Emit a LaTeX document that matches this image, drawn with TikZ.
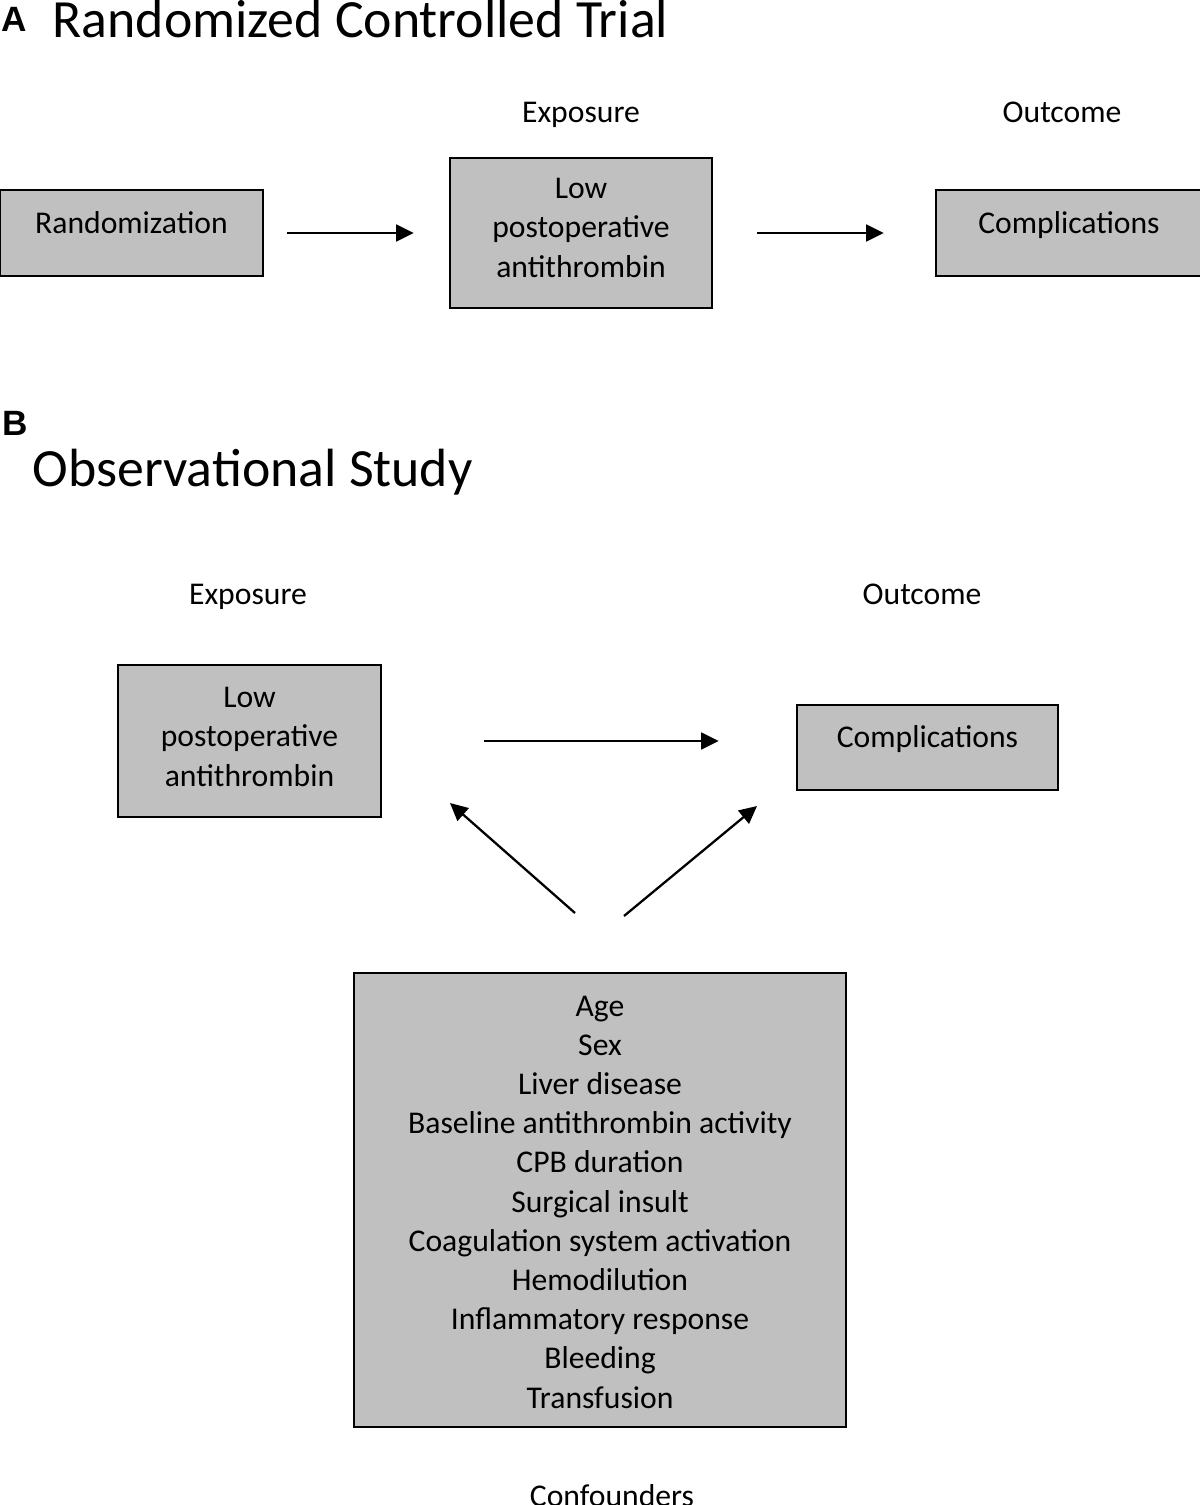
\documentclass[tikz,border=0pt]{standalone}
\usepackage{fontspec}
\setmainfont{Carlito}
\newfontfamily\panelfont{Liberation Sans}
\usetikzlibrary{arrows.meta,positioning}
\definecolor{boxgray}{RGB}{192,192,192}

\begin{document}
\begin{tikzpicture}[x=0.01cm,y=-0.01cm,
  box/.style={draw=black,line width=0.7pt,fill=boxgray,inner sep=0pt,align=center,font=\fontsize{9}{11.2}\selectfont},
  onebox/.style={box,text height=0.15cm,text depth=0.15cm},
  tag/.style={anchor=base,font=\fontsize{9}{11.2}\selectfont},
  title/.style={anchor=base west,inner sep=0pt,font=\fontsize{15.3}{18}\selectfont},
  panel/.style={anchor=base west,inner sep=0pt,font=\panelfont\bfseries\fontsize{10}{12}\selectfont},
  arr/.style={line width=0.65pt,->,>={Triangle[length=5pt,width=4.8pt]}}]
\useasboundingbox (0,0) rectangle (1200,1505);

%% A: randomized trial
\node[panel] (panA) at (1,31) {A};
\node[title] (titleA) at (52,37) {Randomized Controlled Trial};
\node[tag] (expA) at (581,122) {Exposure};
\node[tag] (outA) at (1062,122) {Outcome};

\node[onebox,minimum width=2.63cm,minimum height=0.86cm] (rand) at (131.5,233) {Randomization};
\node[box,minimum width=2.62cm,minimum height=1.5cm,text height=0.93cm,text depth=0.05cm] (lowA) at (581,233) {Low\\postoperative\\antithrombin};
\node[onebox,minimum width=2.66cm,minimum height=0.86cm] (compA) at (1069,233) {Complications};

\draw[arr,shorten <=0.23cm,shorten >=0.35cm] (rand.east) -- (lowA.west);
\draw[arr,shorten <=0.44cm,shorten >=0.51cm] (lowA.east) -- (compA.west);

%% B: observational study
\node[panel] (panB) at (2,435) {B};
\node[title] (titleB) at (32,486) {Observational Study};
\node[tag] (expB) at (248,604) {Exposure};
\node[tag] (outB) at (922,604) {Outcome};

\node[box,minimum width=2.63cm,minimum height=1.52cm,text height=0.95cm,text depth=0.05cm] (lowB) at (249.5,741) {Low\\postoperative\\antithrombin};
\node[onebox,minimum width=2.61cm,minimum height=0.85cm] (compB) at (927.5,747.5) {Complications};
\node[box,font=\fontsize{9}{11.15}\selectfont,minimum width=4.92cm,minimum height=4.54cm,text height=4.21cm,text depth=0.05cm] (conf) at (600,1200)
  {Age\\Sex\\Liver disease\\Baseline antithrombin activity\\CPB duration\\Surgical insult\\Coagulation system activation\\Hemodilution\\Inflammatory response\\Bleeding\\Transfusion};
\node[tag] (confLab) at (612,1506) {Confounders};

\coordinate (cfL) at (575,913);
\coordinate (tipL) at (450,803);
\coordinate (cfR) at (624,916);
\coordinate (tipR) at (757,806);

\draw[arr,shorten <=1.02cm,shorten >=0.77cm] (lowB.east) -- (lowB.east -| compB.west);
\draw[arr] (cfL) -- (tipL);
\draw[arr] (cfR) -- (tipR);
\end{tikzpicture}
\end{document}
